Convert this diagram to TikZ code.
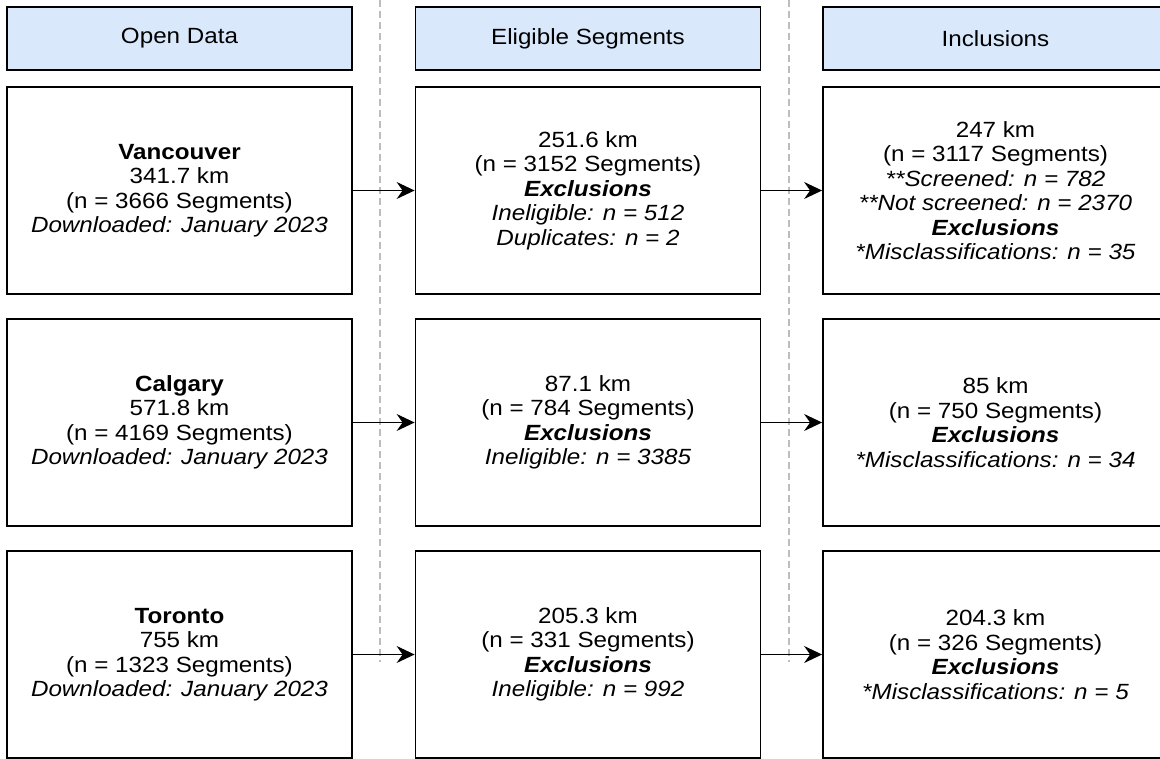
\documentclass[tikz,border=0pt]{standalone}
\usepackage{fontspec}
\setmainfont{Liberation Sans}[FakeStretch=1.1]
\usepackage{xcolor}
\usepackage{tikz}
\usetikzlibrary{arrows.meta}
\definecolor{azulclaro}{HTML}{DAE8FC}
\definecolor{gris}{HTML}{BDBDBD}

\begin{document}
\begin{tikzpicture}[x=1pt, y=-1pt, font=\fontsize{22}{24.5}\selectfont,
  headbox/.style={draw, line width=1.8pt, fill=azulclaro, minimum width=345pt, minimum height=63pt, inner sep=0pt},
  citybox/.style={draw, line width=1.8pt, fill=white, minimum width=345pt, minimum height=207pt, align=center, inner sep=0pt},
  flecha/.style={line width=1.3pt, -{Stealth[length=18pt, width=17pt, inset=6pt]}},
  sep/.style={gris, line width=1.2pt, dash pattern=on 7pt off 4pt}]
  \clip (0,0) rectangle (1160,759);
  \fill[white] (0,0) rectangle (1160,759);
  % separadores de columnas
  \foreach \x/\n in {380/s1,789/s2}{
    \coordinate (\n top) at (\x,0);
    \coordinate (\n bot) at (\x,662);
    \draw[sep] (\n top) -- (\n bot);
  }
  % cabeceras
  \foreach \x/\t/\n in {179.5/Open Data/hod, 588/Eligible Segments/hel, 995.5/Inclusions/hin}{
    \node[headbox] (\n) at (\x,38.5) {\t};
  }
  % fila 1: Vancouver
  \node[citybox] (od1) at (179.5,190.5) {\textbf{Vancouver}\\341.7 km\\(n = 3666 Segments)\\\textit{Downloaded: January 2023}};
  \node[citybox] (el1) at (588,190.5) {251.6 km\\(n = 3152 Segments)\\\textbf{\textit{Exclusions}}\\\textit{Ineligible: n = 512}\\\textit{Duplicates: n = 2}};
  \node[citybox] (in1) at (995.5,190.5) {247 km\\(n = 3117 Segments)\\\textit{**Screened: n = 782}\\\textit{**Not screened: n = 2370}\\\textbf{\textit{Exclusions}}\\\textit{*Misclassifications: n = 35}};
  % fila 2: Calgary
  \node[citybox] (od2) at (179.5,422.5) {\textbf{Calgary}\\571.8 km\\(n = 4169 Segments)\\\textit{Downloaded: January 2023}};
  \node[citybox] (el2) at (588,422.5) {87.1 km\\(n = 784 Segments)\\\textbf{\textit{Exclusions}}\\\textit{Ineligible: n = 3385}};
  \node[citybox] (in2) at (995.5,422.5) {85 km\\(n = 750 Segments)\\\textbf{\textit{Exclusions}}\\\textit{*Misclassifications: n = 34}};
  % fila 3: Toronto
  \node[citybox] (od3) at (179.5,654.5) {\textbf{Toronto}\\755 km\\(n = 1323 Segments)\\\textit{Downloaded: January 2023}};
  \node[citybox] (el3) at (588,654.5) {205.3 km\\(n = 331 Segments)\\\textbf{\textit{Exclusions}}\\\textit{Ineligible: n = 992}};
  \node[citybox] (in3) at (995.5,654.5) {204.3 km\\(n = 326 Segments)\\\textbf{\textit{Exclusions}}\\\textit{*Misclassifications: n = 5}};
  % flechas entre columnas
  \foreach \r in {1,2,3}{
    \draw[flecha] (od\r) -- (el\r);
    \draw[flecha] (el\r) -- (in\r);
  }
\end{tikzpicture}
\end{document}
